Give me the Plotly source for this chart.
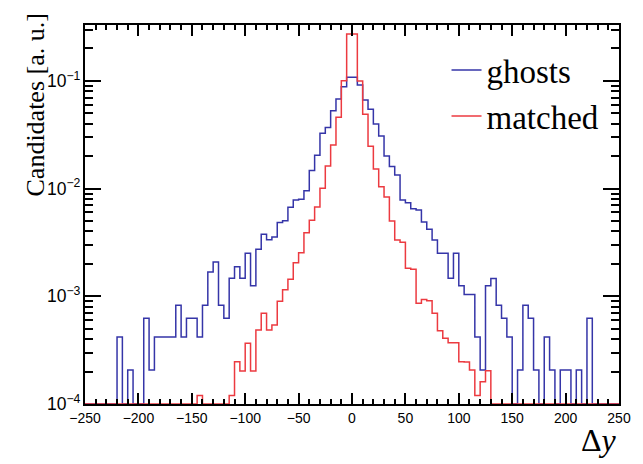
import numpy as np
import plotly.graph_objects as go

# Binning: 100 bins of width 5 between -250 and 250
bin_edges = np.arange(-250, 255, 5)

# Normalised candidate distributions (one value per bin, low edge -250 ... 245)
ghosts = [
    0, 0, 0, 0, 0, 0,
    4.2e-4, 0, 2.07e-4, 0, 0,
    6.25e-4, 2.07e-4, 4.2e-4, 4.2e-4, 4.2e-4,
    4.2e-4, 8.26e-4, 4.2e-4, 6.25e-4, 6.25e-4,
    4.2e-4, 8.26e-4, 1.68e-3, 2.08e-3, 8.26e-4,
    6.25e-4, 1.47e-3, 1.88e-3, 1.47e-3, 2.51e-3,
    1.25e-3, 2.74e-3, 3.77e-3, 3.35e-3, 3.55e-3,
    4.84e-3, 5.04e-3, 6.70e-3, 7.83e-3, 7.95e-3,
    9.57e-3, 1.47e-2, 2.04e-2, 3.26e-2, 3.70e-2,
    5.29e-2, 6.79e-2, 8.83e-2, 0.108,
    0.108, 0.0916, 0.0666, 0.0545, 0.0398, 0.0308, 0.0201, 0.0160, 0.0134, 7.83e-3,
    7.39e-3, 6.5e-3, 6.33e-3, 4.9e-3, 4.19e-3, 3.33e-3, 2.51e-3, 2.51e-3, 1.47e-3, 2.51e-3,
    1.25e-3, 1.04e-3, 1.04e-3, 4.2e-4, 2.07e-4, 1.25e-3, 1.46e-3, 8.26e-4, 6.25e-4, 4.2e-4,
    0, 2.07e-4, 8.26e-4, 6.25e-4, 2.07e-4, 0, 4.2e-4, 2.07e-4, 0, 2.07e-4,
    2.07e-4, 0, 2.07e-4, 0, 6.25e-4, 0, 0, 0, 0, 0,
]

matched = [
    0, 0, 0, 0, 0, 0, 0, 0, 0, 0,
    0, 0, 0, 0, 0, 0, 0, 0, 0, 0,
    0, 1.2e-4, 0, 0, 0, 0, 0,
    1.2e-4, 2.47e-4, 2.02e-4, 3.66e-4, 2.02e-4,
    4.86e-4, 6.95e-4, 4.86e-4, 5.42e-4, 9.0e-4,
    1.15e-3, 1.44e-3, 2.05e-3, 2.54e-3, 3.9e-3,
    5.07e-3, 6.75e-3, 1.01e-2, 1.62e-2, 2.54e-2,
    4.59e-2, 0.1005, 0.273,
    0.273, 0.0998, 0.049, 0.0247, 0.0152, 0.0104, 8.35e-3, 5.0e-3, 3.33e-3, 3.17e-3,
    1.82e-3, 1.78e-3, 8.6e-4, 9.35e-4, 9.1e-4, 6.95e-4, 4.8e-4, 4.07e-4, 3.7e-4, 3.7e-4,
    2.47e-4, 2.45e-4, 2.07e-4, 1.2e-4, 1.61e-4, 2.04e-4, 0, 0, 0, 0,
    0, 0, 0, 0, 0, 0, 0, 0, 0, 0,
    0, 0, 0, 0, 0, 0, 0, 0, 0, 0,
]

x_ticks = [-250, -200, -150, -100, -50, 0, 50, 100, 150, 200, 250]
x_tick_text = ["\u2212250", "\u2212200", "\u2212150", "\u2212100", "\u221250", "0",
               "50", "100", "150", "200", "250"]

Y_MIN_LOG = -4.0
Y_MAX_LOG = -0.481
floor = 10 ** Y_MIN_LOG


def step_xy(vals):
    v = np.maximum(np.asarray(vals, dtype=float), floor)  # empty bins drawn on the frame
    return bin_edges, np.append(v, v[-1])


fig = go.Figure()
for name, vals, col in [("ghosts", ghosts, "#3535a8"), ("matched", matched, "#ec3a40")]:
    xs, ys = step_xy(vals)
    fig.add_trace(go.Scatter(x=xs, y=ys, mode="lines", name=name,
                             line=dict(color=col, width=1.5, shape="hv"),
                             cliponaxis=False))

fig.update_layout(
    width=643, height=464,
    margin=dict(l=85, r=21, t=25, b=60),
    paper_bgcolor="white", plot_bgcolor="white",
    font=dict(family="Liberation Sans", size=14, color="black"),
    showlegend=True,
    legend=dict(x=0.677, y=0.955, xanchor="left", yanchor="top",
                bgcolor="rgba(0,0,0,0)",
                font=dict(family="Liberation Serif", size=33, color="black"),
                itemwidth=30),
)

fig.update_xaxes(
    range=[-250, 250], tickvals=x_ticks, ticktext=x_tick_text,
    ticks="inside", ticklen=11, tickwidth=1.5, tickcolor="black",
    showline=True, linecolor="black", linewidth=1.5, mirror="ticks",
    showgrid=False, zeroline=False,
    minor=dict(dtick=10, ticks="inside", ticklen=5, tickwidth=1.5, tickcolor="black", showgrid=False),
    tickfont=dict(size=14),
)
fig.update_yaxes(
    type="log", range=[Y_MIN_LOG, Y_MAX_LOG], dtick=1, exponentformat="power",
    ticks="inside", ticklen=16, tickwidth=1.5, tickcolor="black",
    showline=True, linecolor="black", linewidth=1.5, mirror="ticks",
    showgrid=False, zeroline=False,
    minor=dict(dtick="D1", ticks="inside", ticklen=8, tickwidth=1.5, tickcolor="black", showgrid=False),
    tickfont=dict(size=14),
)

fig.add_annotation(text="Candidates [a. u.]", textangle=-90, showarrow=False,
                   xref="paper", yref="paper", x=0, y=1, xanchor="center", yanchor="top",
                   xshift=-50, yshift=13,
                   font=dict(family="Liberation Serif", size=26, color="black"))
fig.add_annotation(text="\u0394<i>y</i>", showarrow=False,
                   xref="paper", yref="paper", x=1, y=0, xanchor="right", yanchor="middle",
                   xshift=0, yshift=-36,
                   font=dict(family="Liberation Serif", size=32, color="black"))

fig.write_html("out.html", config={"displayModeBar": False},
               post_script="document.body.style.margin='0';")
